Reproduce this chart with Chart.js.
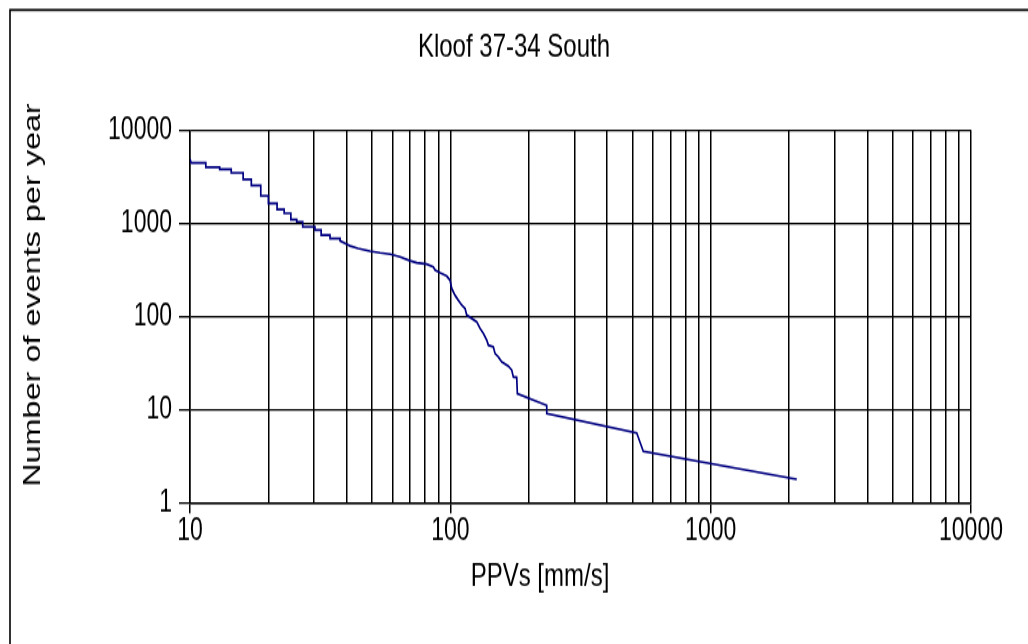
<!DOCTYPE html>
<html>
<head>
<meta charset="utf-8">
<script src="https://cdn.jsdelivr.net/npm/chart.js@4.4.1/dist/chart.umd.min.js"></script>
<style>
  html, body { margin: 0; padding: 0; background: #fff; overflow: hidden; }
  #wrap { width: 1028px; height: 644px; overflow: hidden; }
  /* the source picture is stretched vertically, so draw on a shorter canvas and stretch it */
  #chart { transform: scaleY(1.35); transform-origin: 0 0; }
</style>
</head>
<body>
<div id="wrap"><canvas id="chart" width="1028" height="477"></canvas></div>
<script>
// PPV values [mm/s] and matching yearly event counts
const ppv = [
  10, 10.1, 11.5, 11.5, 13.0, 13.0, 14.4, 14.4, 16.0, 16.0,
  17.2, 17.2, 18.7, 18.7, 20.0, 20.0, 21.6, 21.6, 23.0, 23.0,
  24.4, 24.4, 25.7, 25.7, 27.1, 27.1, 30.2, 30.2, 31.9, 31.9,
  34.5, 34.5, 37.7, 37.7, 39.4, 41.2, 44.2, 49.1, 53.7, 58.7,
  64.1, 70.0, 74.3, 81.2, 86.0, 87.4, 91.3, 96.9, 99.7, 101.2,
  104.2, 107.3, 110.6, 113.9, 115.6, 120.9, 126.3, 130.1, 134, 138,
  140, 146.3, 148.5, 152.9, 157.6, 167.1, 172.2, 174.6, 179.9, 180.9,
  234.6, 234.6, 520, 551, 2142
];
const events = [
  4900, 4450, 4450, 3980, 3980, 3790, 3790, 3480, 3480, 2960,
  2960, 2550, 2550, 1975, 1975, 1640, 1640, 1410, 1410, 1280,
  1280, 1100, 1100, 1040, 1040, 918, 918, 846, 846, 748,
  748, 690, 690, 650, 610, 574, 539, 504, 483, 468,
  438, 397, 378, 366, 342, 315, 295, 272, 246, 201,
  170, 150, 133, 122, 104, 95.7, 88, 74.7, 66, 56,
  49.5, 47.4, 40.3, 37.1, 32.8, 29.5, 26.7, 22.6, 22.3, 15.0,
  11.2, 9.16, 5.67, 3.61, 1.81
];

const xMajor = [10, 100, 1000, 10000];
const xTicks = [10, 20, 30, 40, 50, 60, 70, 80, 90,
  100, 200, 300, 400, 500, 600, 700, 800, 900,
  1000, 2000, 3000, 4000, 5000, 6000, 7000, 8000, 9000, 10000];
const yTicks = [1, 10, 100, 1000, 10000];

const chartTitle = "Kloof 37-34 South";
const xTitle = "PPVs [mm/s]";
const yTitle = "Number of events per year";

const points = ppv.map((v, i) => ({ x: v, y: events[i] }));

const fontFamily = "'Liberation Sans', Arial, sans-serif";
const tickFont = { family: fontFamily, size: 23 };

// outer frame plus the three titles
const frame = {
  id: "frame",
  beforeDraw(chart) {
    const ctx = chart.ctx;
    ctx.save();
    ctx.fillStyle = "#fff";
    ctx.fillRect(0, 0, chart.width, chart.height);
    ctx.strokeStyle = "#000";
    ctx.lineWidth = 1.6;
    ctx.beginPath();
    ctx.moveTo(10, chart.height + 5);
    ctx.lineTo(10, 7.4);
    ctx.lineTo(chart.width + 5, 7.4);
    ctx.stroke();
    ctx.restore();
  },
  afterDraw(chart) {
    const ctx = chart.ctx;
    ctx.save();
    ctx.fillStyle = "#000";
    ctx.font = "24px " + fontFamily;
    ctx.textAlign = "center";
    ctx.textBaseline = "middle";
    ctx.fillText(chartTitle, 514, 35.6);
    ctx.fillText(xTitle, 540, 427.4);
    ctx.translate(33, 218.5);
    ctx.rotate(-Math.PI / 2);
    ctx.fillText(yTitle, 0, 0);
    ctx.restore();
  }
};

new Chart(document.getElementById("chart"), {
  type: "line",
  data: {
    datasets: [{
      data: points,
      borderColor: "#000080",
      borderWidth: 1.7,
      pointRadius: 0,
      tension: 0,
      fill: false
    }]
  },
  options: {
    responsive: false,
    animation: false,
    layout: { padding: { left: 0, top: 96.3, right: 57, bottom: 0 } },
    plugins: {
      legend: { display: false },
      tooltip: { enabled: false },
      title: { display: false }
    },
    scales: {
      x: {
        type: "logarithmic",
        min: 10,
        max: 10000,
        afterBuildTicks: (s) => { s.ticks = xTicks.map(v => ({ value: v })); },
        afterFit: (s) => { s.height = 104.2; },
        grid: {
          color: "#000",
          lineWidth: 1.5,
          tickLength: 7.4,
          tickColor: (c) => xMajor.includes(c.tick && c.tick.value) ? "#000" : "rgba(0,0,0,0)"
        },
        border: { color: "#000", width: 1.5 },
        ticks: {
          autoSkip: false,
          maxRotation: 0,
          color: "#000",
          font: tickFont,
          padding: 0,
          callback: (v) => xMajor.includes(v) ? String(v) : ""
        }
      },
      y: {
        type: "logarithmic",
        min: 1,
        max: 10000,
        afterBuildTicks: (s) => { s.ticks = yTicks.map(v => ({ value: v })); },
        afterFit: (s) => { s.width = 190; },
        grid: { color: "#000", lineWidth: 1.3, tickLength: 11, tickColor: "#000" },
        border: { color: "#000", width: 1.5 },
        ticks: {
          autoSkip: false,
          color: "#000",
          font: tickFont,
          padding: 7,
          callback: (v) => String(v)
        }
      }
    }
  },
  plugins: [frame]
});
</script>
</body>
</html>
